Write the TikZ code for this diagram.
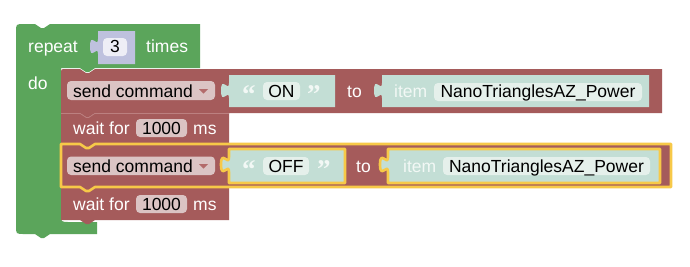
\documentclass[tikz,border=0pt]{standalone}
\usepackage{fontspec}
\setmainfont{Liberation Sans}
\newfontfamily\bkquotefont{Liberation Serif}
\definecolor{bkgreen}{HTML}{5BA55B}
\definecolor{bkred}{HTML}{A55B5B}
\definecolor{bkredline}{HTML}{BC8080}
\definecolor{bkpurple}{HTML}{BEC1DE}
\definecolor{bkteal}{HTML}{C3DED5}
\definecolor{bkfieldp}{HTML}{DBC4C4}
\definecolor{bkfieldw}{HTML}{EEEEF6}
\definecolor{bkfieldt}{HTML}{E5F0EB}
\definecolor{bkyellow}{HTML}{F7C948}
\definecolor{bkarrow}{HTML}{B36B6B}
\definecolor{bklight}{HTML}{F2F8F5}
% statement block: x0 y0 x1 y1 options corner
\newcommand\bkstmt[6]{%
\path[#5] (#1,{#2+#6}) .. controls (#1,#2) .. ({#1+#6},#2) -- ({#1+19},#2) -- ({#1+25},{#2+4}) -- ({#1+28},{#2+4}) -- ({#1+34},#2) -- (#3,#2) -- (#3,#4) -- ({#1+34},#4) -- ({#1+28},{#4+4}) -- ({#1+25},{#4+4}) -- ({#1+19},#4) -- (#1,#4) -- cycle;}
% value socket block with left puzzle tab: x0 y0 x1 y1 options
\newcommand\bksocket[5]{%
\path[#5] (#1,#2) -- (#1,{#2+8}) .. controls (#1,{#2+18}) and ({#1-8},#2) .. ({#1-8},{#2+15.5}) .. controls ({#1-8},{#2+31}) and (#1,{#2+13}) .. (#1,{#2+23}) -- (#1,#4) -- (#3,#4) -- (#3,#2) -- cycle;}
\begin{document}
\begin{tikzpicture}[x=1pt,y=-1pt,
  every node/.style={inner sep=0pt},
  wtext/.style={text=white, font=\fontsize{17.5}{20}\selectfont, anchor=base west},
  btext/.style={text=black, font=\fontsize{17.5}{20}\selectfont, anchor=base},
  ltext/.style={text=bklight, font=\fontsize{17.5}{20}\selectfont, anchor=base west},
  qtext/.style={text=bklight, font=\bkquotefont\fontsize{27}{28}\selectfont\bfseries, anchor=base west},
  field/.style={rounded corners=4},
  hilite/.style={draw=bkyellow, line width=2.6pt, line join=round}]
\useasboundingbox (0,0) rectangle (690,266);
\fill[white] (0,0) rectangle (690,266);

% repeat block (C shape)
\fill[bkgreen] (24,24) -- (35,24) -- (41,28) -- (44,28) -- (50,24) -- (200,24) -- (200,68)
  -- (95,68) -- (89,72) -- (86,72) -- (80,68) -- (61,68) -- (61,214) .. controls (61,222) .. (69,222)
  -- (97,222) -- (97,234) -- (50,234) -- (44,238) -- (41,238) -- (35,234) -- (24,234)
  .. controls (16,234) .. (16,226) -- (16,32) .. controls (16,24) .. (24,24) -- cycle;
\node[wtext] (trep) at (28,52) {repeat};
\bksocket{98}{31}{135}{64}{fill=bkpurple}
\fill[field, bkfieldw] (103,38) rectangle (127,56);
\node[btext] (tthree) at (115,52) {3};
\node[wtext] (ttimes) at (146,52) {times};
\node[wtext] (tdo) at (28,89) {do};

% statement blocks
\bkstmt{61}{69}{662}{113}{fill=bkred}{5}
\bkstmt{61}{113}{229}{143}{fill=bkred}{0}
\draw[bkredline, line width=0.7pt] (61,113.4) -- (80,113.4) -- (86,117.4) -- (89,117.4) -- (95,113.4) -- (229,113.4);
\bkstmt{61}{187}{229}{220}{fill=bkred}{0}
\bkstmt{61}{144}{671}{187}{fill=bkred, hilite}{0}

% row 1: send command ON
\fill[field, bkfieldp] (67,81) rectangle (215,100);
\node[btext, anchor=base west] (tsend1) at (73,97) {send command};
\fill[bkarrow] (199,89) -- (208,89) -- (203.5,93.5) -- cycle;
\bksocket{229}{75}{335}{107}{fill=bkteal}
\node[qtext] (q1a) at (242,103) {“};
\fill[field, bkfieldt] (263,82) rectangle (300,100);
\node[btext] (ton) at (281.5,97) {ON};
\node[qtext] (q1b) at (307,103) {”};
\node[wtext] (tto1) at (347,97) {to};
\bksocket{382}{75}{649}{107}{fill=bkteal}
\node[ltext] (titem1) at (394,97) {item};
\fill[field, bkfieldt] (434,83) rectangle (642,101);
\node[btext] (tname1) at (538,97) {NanoTrianglesAZ\_Power};

% wait 1
\node[wtext] (twait1) at (73,134) {wait for};
\fill[field, bkfieldp] (136,119) rectangle (187,137);
\node[btext] (tnum1) at (161.5,134) {1000};
\node[wtext] (tms1) at (193,134) {ms};

% row 2: send command OFF
\fill[field, bkfieldp] (67,156.5) rectangle (215,175);
\node[btext, anchor=base west] (tsend2) at (73,172) {send command};
\fill[bkarrow] (199,164) -- (208,164) -- (203.5,168.5) -- cycle;
\bksocket{229}{149}{345}{183}{fill=bkteal, hilite}
\node[qtext] (q2a) at (242,178) {“};
\fill[field, bkfieldt] (263,157) rectangle (309,175);
\node[btext] (toff) at (286,172) {OFF};
\node[qtext] (q2b) at (317,178) {”};
\node[wtext] (tto2) at (356,172) {to};
\bksocket{388}{149}{660}{183}{fill=bkteal, hilite}
\node[ltext] (titem2) at (403,172) {item};
\fill[field, bkfieldt] (443,157) rectangle (650,175);
\node[btext] (tname2) at (546.5,172) {NanoTrianglesAZ\_Power};

% wait 2
\node[wtext] (twait2) at (73,210) {wait for};
\fill[field, bkfieldp] (136,195) rectangle (187,213);
\node[btext] (tnum2) at (161.5,210) {1000};
\node[wtext] (tms2) at (193,210) {ms};
\end{tikzpicture}
\end{document}
